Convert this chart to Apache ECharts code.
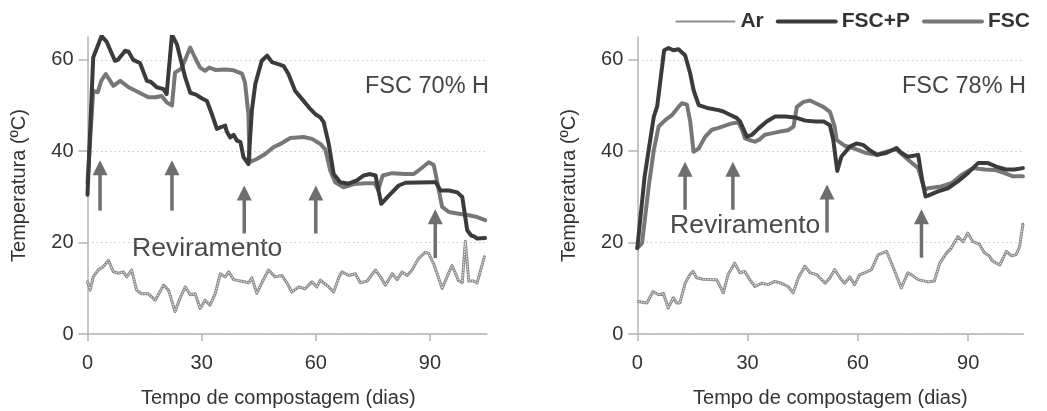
<!DOCTYPE html>
<html>
<head>
<meta charset="utf-8">
<script src="https://cdn.jsdelivr.net/npm/echarts@6/dist/echarts.min.js"></script>
<style>
html,body{margin:0;padding:0;background:#fff;}
#chart{width:1047px;height:411px;}
</style>
</head>
<body>
<div id="chart"></div>
<script>
// ---------- DATA ----------
const xTicks = [0, 30, 60, 90];
const yTicks = [0, 20, 40, 60];
const seriesNames = ['Ar', 'FSC+P', 'FSC'];
const panelTitles = ['FSC 70% H', 'FSC 78% H'];
const annotation = 'Reviramento';
const xAxisTitle = 'Tempo de compostagem (dias)';
const yAxisTitle = 'Temperatura (ºC)';

// Left panel (FSC 70% H) : [day, °C]
const leftFSCP = [[0,30.5],[1.5,60.5],[3.7,65.2],[5,64],[7.2,59.8],[8,60],[9.9,62],[10.8,61.8],[12,60],[13.8,59.3],[15.6,55.4],[16.6,55.2],[18.2,54],[20,53.6],[20.8,52.5],[22.2,65.5],[23.5,63.4],[25.7,56.1],[27,52.8],[28.5,52.4],[30,51.6],[31.4,51],[32.7,48.1],[34,44.9],[34.9,45.2],[36.2,45.6],[36.6,44.3],[37.5,43],[38.4,43.6],[39.3,42.3],[40.2,42],[41,38.7],[42.3,37.2],[43.2,48.9],[44.1,54.7],[45.8,59.8],[47.2,60.9],[48.5,59.5],[50.3,59],[51.6,58.6],[52.8,56.9],[54.6,53.2],[56.4,51.4],[58.6,49.2],[59.9,48.1],[61.2,47.4],[62.1,46.3],[63.4,41.6],[64.7,35],[66.4,33.2],[68.6,32.9],[70.8,33.6],[72.6,34.7],[74.3,35],[75.7,34.7],[77.2,28.5],[79.2,30.3],[81.8,32.5],[83.6,33.1],[90.6,33.2],[91.5,33.2],[92.8,31.4],[95,31.4],[97.2,31],[98.5,30],[99.8,22.7],[100.8,21.6],[101.7,21.3],[102.4,20.9],[104.5,21]];
const leftFSC = [[0,33],[1.5,53.2],[2.7,52.9],[3.6,55.4],[4.8,56.9],[6.8,54.3],[8.6,55.4],[10.8,54],[13.4,52.9],[16,51.8],[17.8,51.8],[19.5,52.1],[20.8,50.7],[22.2,50],[23,57.2],[24.7,58.1],[27,62.7],[28.3,60.4],[29.6,58.3],[30.9,57.6],[32,58.3],[33.6,57.8],[36.2,57.9],[38.4,57.7],[40.6,57],[41.4,55],[42.3,48.1],[42.6,37.6],[44.5,38.3],[46.7,39.4],[48.9,40.9],[50.7,41.6],[53.3,42.9],[56.8,43.1],[59,42.7],[61.2,41.6],[62.5,40.4],[63.8,35.8],[65.1,33.2],[67.3,32.1],[70,32.8],[73,33],[75.5,33],[76.4,31.5],[77.6,34.7],[80,35.2],[83.6,35],[85.7,35],[87.5,36.1],[89.7,37.6],[91,37],[92.2,32.1],[93.2,27.8],[95,26.7],[97.6,26.3],[100.2,26],[102.4,25.6],[104.5,24.9]];
const leftAr = [[0,11.4],[0.7,9.6],[1.5,12.5],[2.8,14],[4.1,14.7],[5.5,16.1],[6.8,13.6],[8.1,13.3],[9.4,13.6],[10.3,12.5],[11.6,14],[12.9,9.6],[14.2,8.8],[16,8.8],[17.8,7.4],[20,10.7],[21.3,9.6],[23,4.9],[24.3,7.8],[25.7,10.3],[27,8.6],[28.3,8.8],[29.6,5.6],[30.9,7.4],[32.2,6.3],[33.6,8.9],[34.9,13.2],[36.2,12.5],[37.1,13.6],[38.4,11.9],[40.2,11.6],[42.4,11.2],[43.2,12.3],[44.5,8.9],[45.8,11.2],[47.6,14],[49.3,12.5],[51.1,12.8],[52.4,11.2],[53.7,9.2],[55.5,10.3],[57.2,9.9],[59,11.4],[60.3,10.3],[61.2,11.8],[63.4,10.3],[64.7,9.2],[66.1,12.5],[66.9,13.6],[68.7,12.8],[70.4,13.2],[71.7,11.2],[73.5,11.6],[75.7,14],[77,12.5],[78.3,10.7],[80.1,13.2],[81.4,11.9],[82.7,13.6],[84,12.8],[85.3,14],[87,16.5],[88.8,17.9],[89.7,17.6],[91,15.3],[93.2,10],[94.5,12.5],[95.8,15],[97.5,11.7],[98.5,11.2],[99.3,20.3],[100.2,11.6],[101.5,11.6],[102.4,11.2],[104.3,16.9]];
// arrows: [day, from °C, to °C (tip)]
const leftArrows = [[3.3,27,38],[22.2,27,38],[41.2,22,32.5],[60,22,32.5],[91.4,16.6,27.3]];

// Right panel (FSC 78% H)
const rightFSCP = [[0,18.8],[2,34.5],[3.1,40.3],[4.5,47.6],[5.4,49.8],[6.3,55.6],[7.3,62.1],[8.5,62.6],[9.8,62.1],[11.2,62.3],[13,61],[14.4,57],[15.3,53.4],[16.7,50.1],[19.4,49.4],[22.1,49],[23.4,48.7],[25.2,48],[27,47.3],[27.9,46.6],[29.8,43.2],[31.2,43.6],[33,45],[35.2,46.5],[37.5,47.6],[40.2,47.6],[42.9,47.4],[45.7,46.7],[48.4,46.5],[50.7,46.5],[52.4,45.7],[53.3,42.5],[54.4,35.7],[55.5,38.8],[57.8,41],[59.6,41.7],[61.4,41.4],[63.2,40.2],[65.3,39.2],[67.7,39.6],[70.5,40.7],[71.9,39.6],[73.6,38.8],[76.4,39.2],[77.5,33.7],[78.4,30.1],[79.1,30.3],[81.8,31.2],[84.5,31.9],[87.2,33.4],[89.9,35.2],[92.7,37.4],[95.4,37.4],[98.1,36.5],[100.3,36],[102.6,36],[104.9,36.3]];
const rightFSC = [[0,18.8],[1.3,19.9],[3.1,32.3],[4.5,40.3],[5.8,45.4],[7.6,46.8],[9.4,47.9],[11.2,49.7],[12.1,50.5],[13.5,50.2],[14.4,46.5],[15.3,39.9],[16.7,40.6],[18.5,43.2],[20.3,44.7],[22.1,45.1],[23.9,45.6],[25.7,46.1],[27.5,46.3],[28.5,44.7],[29.3,42.8],[30.7,42.4],[32,42.1],[33.3,42.6],[34.7,43.6],[36.5,43.9],[38.8,44.3],[41,44.6],[42.5,45.4],[43.4,49.7],[45.2,50.8],[47,51.1],[48.8,50.4],[50.6,49.7],[52.4,48.6],[53.7,45.4],[54.2,42.5],[56.4,41.2],[58.7,40.7],[62.3,39.6],[65,39.2],[67.7,39.9],[70.5,40.4],[73.6,38.2],[76.4,36.3],[78.2,31.5],[79.1,31.9],[82.7,32.3],[85.4,33],[88.2,34.8],[91.3,36.3],[94.5,36],[97.3,35.9],[99.9,35.2],[102.2,34.5],[104.9,34.5]];
const rightAr = [[0.3,7.1],[2.6,6.8],[4.3,9.3],[5.8,8.6],[7.1,8.9],[8.4,5.7],[9.8,7.9],[10.7,6.8],[11.6,6.8],[13,11.1],[14.3,13],[15.2,13.7],[16.1,12.3],[17.9,12],[20.2,11.9],[21.6,11.9],[23.4,9],[24.7,13],[26.5,15.5],[27.9,13.4],[29.2,13.7],[30.6,11.9],[32,10.4],[33.8,11.1],[35.6,10.8],[37.4,11.5],[39.2,11.1],[41,10.4],[42.4,9],[43.8,12.3],[45.6,14.8],[47,13.4],[48.8,13],[51.1,11.1],[52.4,12.3],[53.7,14.1],[55.1,12.3],[56.4,11.1],[57.8,12.5],[59.1,10.8],[60.5,13],[61.9,13.4],[63.7,14.1],[65.5,17.3],[67.8,18.1],[69.6,14.6],[71.8,10.1],[73.6,13.4],[74.5,13],[76.4,11.9],[79,11.4],[80.8,11.6],[82.3,15.5],[84.1,17.7],[85.4,18.8],[87.2,21.3],[88.6,20.2],[89.9,22.1],[91.3,20.2],[93.1,19.6],[94.4,17.8],[95.7,17.1],[96.6,16],[98.6,15.1],[100.4,18.1],[101.8,17.1],[103.1,17.4],[104,19.2],[104.9,24]];
const rightArrows = [[13,27.2,37.7],[26,27.2,37.7],[51.6,22.2,32.7],[77.3,16.7,27.3]];

// ---------- STYLE ----------
const FONT = 'Liberation Sans, Arial, sans-serif';
const C_DARK = '#3b3b3b';
const C_GRAY = '#777777';
const C_AIR = '#8e8e8e';
const C_ARROW = '#6e6e6e';
const C_TEXT = '#333333';
const C_AXIS = '#b3b3b3';

function xAxisCfg(gridIndex, namePad) {
  return {
    gridIndex, type: 'value', min: 0, max: 105,
    name: xAxisTitle, nameLocation: 'middle', nameGap: 54,
    nameTextStyle: { fontFamily: FONT, fontSize: 20, color: C_TEXT, padding: namePad },
    axisLine: { lineStyle: { color: C_AXIS, width: 1.5 } },
    axisTick: { show: true, length: 7, customValues: xTicks, lineStyle: { color: C_AXIS, width: 1.5 } },
    axisLabel: { customValues: xTicks, fontFamily: FONT, fontSize: 20, color: C_TEXT, margin: 19 },
    splitLine: { show: false }
  };
}
function yAxisCfg(gridIndex) {
  return {
    gridIndex, type: 'value', min: 0, max: 65,
    name: yAxisTitle, nameLocation: 'middle', nameGap: 58,
    nameTextStyle: { fontFamily: FONT, fontSize: 20, color: C_TEXT },
    axisLine: { show: true, lineStyle: { color: C_AXIS, width: 1.5 } },
    axisTick: { show: true, length: 9, customValues: yTicks, lineStyle: { color: C_AXIS, width: 1.5 } },
    axisLabel: { customValues: yTicks, fontFamily: FONT, fontSize: 20, color: C_TEXT, margin: 14 },
    splitLine: { show: true, lineStyle: { color: '#c8c8c8', width: 1, type: [1.5, 3] } }
  };
}

function lineSeries(name, data, idx, color, width, z) {
  return {
    name, type: 'line', data, xAxisIndex: idx, yAxisIndex: idx,
    symbol: 'none', smooth: false, z,
    lineStyle: { color, width, join: 'round', cap: 'round' },
    itemStyle: { color },
    emphasis: { disabled: true }
  };
}
function airTop(data, idx) {
  return {
    name: 'Ar-top', type: 'line', data, xAxisIndex: idx, yAxisIndex: idx,
    symbol: 'none', z: 3, silent: true,
    lineStyle: { color: '#ffffff', width: 1, type: [1.2, 1.4] },
    emphasis: { disabled: true }
  };
}
function arrowSeries(data, idx) {
  return {
    type: 'custom', xAxisIndex: idx, yAxisIndex: idx, data, z: 10, silent: true,
    encode: { x: 0, y: [1, 2] },
    renderItem: function (params, api) {
      const base = api.coord([api.value(0), api.value(1)]);
      const tip = api.coord([api.value(0), api.value(2)]);
      const head = 15, half = 7.5;
      return {
        type: 'group',
        children: [
          { type: 'line', shape: { x1: base[0], y1: base[1], x2: tip[0], y2: tip[1] + head - 1 },
            style: { stroke: C_ARROW, lineWidth: 3.5 } },
          { type: 'polygon', shape: { points: [[tip[0], tip[1]], [tip[0] - half, tip[1] + head], [tip[0] + half, tip[1] + head]] },
            style: { fill: C_ARROW } }
        ]
      };
    }
  };
}

const chart = echarts.init(document.getElementById('chart'), null, { renderer: 'canvas' });
chart.setOption({
  animation: false,
  backgroundColor: '#ffffff',
  textStyle: { fontFamily: FONT },
  legend: {
    data: [
      { name: seriesNames[0], itemStyle: { opacity: 0 }, lineStyle: { width: 2, type: [1.5, 1] } },
      { name: seriesNames[1], itemStyle: { opacity: 0 }, lineStyle: { width: 4 } },
      { name: seriesNames[2], itemStyle: { opacity: 0 }, lineStyle: { width: 4 } }
    ],
    right: 12, top: 6,
    itemWidth: 58, itemHeight: 14, itemGap: 12,
    textStyle: { fontFamily: FONT, fontSize: 21, fontWeight: 'bold', color: C_TEXT, padding: [0, 0, 0, 1] },
    selectedMode: false
  },
  grid: [
    { left: 87.5, top: 37, width: 399.5, height: 297, outerBoundsMode: 'none', containLabel: false },
    { left: 637.3, top: 37, width: 386, height: 297, outerBoundsMode: 'none', containLabel: false }
  ],
  xAxis: [xAxisCfg(0, [0, 18, 0, 0]), xAxisCfg(1, [0, 0, 0, 0])],
  yAxis: [yAxisCfg(0), yAxisCfg(1)],
  graphic: [
    { type: 'text', left: 365, top: 75, style: { text: panelTitles[0], font: '23.5px ' + FONT, fill: '#444' } },
    { type: 'text', left: 902, top: 75, style: { text: panelTitles[1], font: '23.5px ' + FONT, fill: '#444' } },
    { type: 'text', left: 132, top: 235, style: { text: annotation, font: '26.5px ' + FONT, fill: '#4a4a4a' } },
    { type: 'text', left: 670, top: 212, style: { text: annotation, font: '26.5px ' + FONT, fill: '#4a4a4a' } }
  ],
  series: [
    lineSeries('Ar', leftAr, 0, C_AIR, 3, 2), airTop(leftAr, 0),
    lineSeries('FSC', leftFSC, 0, C_GRAY, 4, 4),
    lineSeries('FSC+P', leftFSCP, 0, C_DARK, 4, 5),
    arrowSeries(leftArrows, 0),
    lineSeries('Ar', rightAr, 1, C_AIR, 3, 2), airTop(rightAr, 1),
    lineSeries('FSC', rightFSC, 1, C_GRAY, 4, 4),
    lineSeries('FSC+P', rightFSCP, 1, C_DARK, 4, 5),
    arrowSeries(rightArrows, 1)
  ]
});
</script>
</body>
</html>
